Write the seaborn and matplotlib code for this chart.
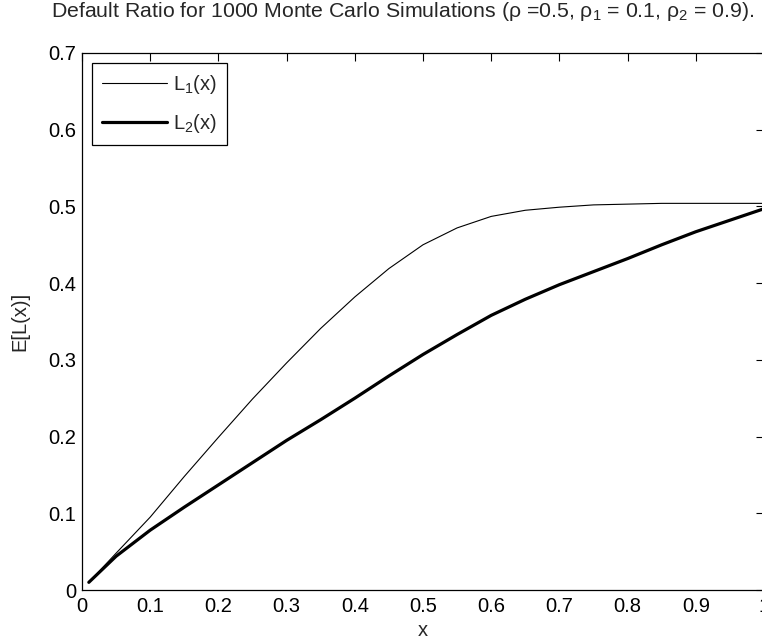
import numpy as np
import pandas as pd
import seaborn as sns
import matplotlib.pyplot as plt

# Values.
x_vals = [0.01, 0.05, 0.1, 0.15, 0.2, 0.25, 0.3, 0.35, 0.4, 0.45, 0.5,
          0.55, 0.6, 0.65, 0.7, 0.75, 0.8, 0.85, 0.9, 0.95, 1.0]
l1_vals = [0.010, 0.048, 0.095, 0.148, 0.199, 0.249, 0.296, 0.341, 0.382, 0.419, 0.450,
           0.472, 0.487, 0.495, 0.499, 0.502, 0.503, 0.504, 0.504, 0.504, 0.504]
l2_vals = [0.010, 0.044, 0.078, 0.108, 0.137, 0.166, 0.195, 0.222, 0.250, 0.279, 0.307,
           0.333, 0.358, 0.379, 0.398, 0.415, 0.432, 0.450, 0.467, 0.482, 0.497]
x_ticks = [0, 0.1, 0.2, 0.3, 0.4, 0.5, 0.6, 0.7, 0.8, 0.9, 1.0]
x_ticklabels = ['0', '0.1', '0.2', '0.3', '0.4', '0.5', '0.6', '0.7', '0.8', '0.9', '1']
y_ticks = [0, 0.1, 0.2, 0.3, 0.4, 0.5, 0.6, 0.7]
y_ticklabels = ['0', '0.1', '0.2', '0.3', '0.4', '0.5', '0.6', '0.7']

df = pd.DataFrame({'x': x_vals, 'L1': l1_vals, 'L2': l2_vals})

sns.set_style('white')
plt.rcParams['font.family'] = ['Liberation Sans', 'DejaVu Sans']
plt.rcParams['mathtext.fontset'] = 'custom'
plt.rcParams['mathtext.rm'] = 'Liberation Sans'
plt.rcParams['mathtext.it'] = 'Liberation Sans'
plt.rcParams['mathtext.default'] = 'regular'

fs = 14.5
fig = plt.figure(figsize=(7.62, 6.43), dpi=100)
ax = fig.add_axes([82 / 762, 53 / 643, 682 / 762, 537 / 643])

sns.lineplot(data=df, x='x', y='L1', ax=ax, color='black', linewidth=0.8,
             label='L$_1$(x)')
sns.lineplot(data=df, x='x', y='L2', ax=ax, color='black', linewidth=2.3,
             label='L$_2$(x)')

ax.set_xlim(0, 1)
ax.set_ylim(0, 0.7)
ax.set_xticks(x_ticks)
ax.set_xticklabels(x_ticklabels)
ax.set_yticks(y_ticks)
ax.set_yticklabels(y_ticklabels)
ax.tick_params(direction='in', length=5.5, width=0.8, top=True, right=True,
               labelsize=fs, colors='black')
ax.tick_params(axis='x', pad=5)
ax.tick_params(axis='y', pad=4)
for s in ax.spines.values():
    s.set_color('black')
    s.set_linewidth(0.9)

ax.set_xlabel('x', fontsize=fs, labelpad=4)
ax.set_ylabel('E[L(x)]', fontsize=fs, labelpad=14)
ax.set_title('Default Ratio for 1000 Monte Carlo Simulations '
             '(ρ =0.5, ρ$_1$ = 0.1, ρ$_2$ = 0.9).',
             fontsize=15.3, x=(403 - 82) / 682, pad=26)

leg = ax.legend(loc='upper left', fontsize=fs, frameon=True, fancybox=False,
                edgecolor='black', framealpha=1, handlelength=3.2,
                handletextpad=0.3, borderaxespad=0.5, borderpad=0.5,
                labelspacing=0.8)
leg.get_frame().set_linewidth(0.9)

fig.savefig('out.png', dpi=100)
